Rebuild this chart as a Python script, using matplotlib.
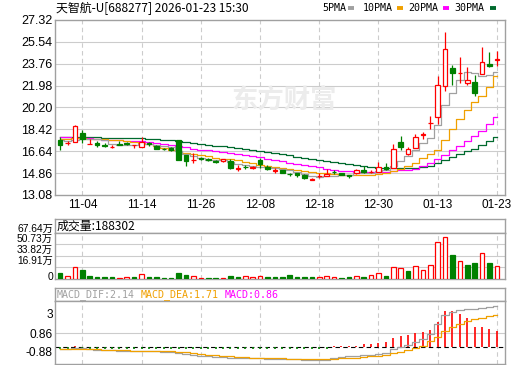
import matplotlib
matplotlib.use("Agg")
import matplotlib.pyplot as plt
from matplotlib.lines import Line2D
import numpy as np

# ---- data (60 trading days) ----
date_ticks = [3, 11, 19, 27, 35, 43, 51, 59]
date_labels = ["11-04", "11-14", "11-26", "12-08", "12-18", "12-30", "01-13", "01-23"]

opens = [17.53, 17.28, 17.39, 18.12, 17.24, 17.34, 17.15, 17.00, 17.23, 17.28,
         17.12, 17.00, 17.33, 17.05, 16.83, 16.87, 17.52, 16.30, 15.90, 16.08,
         15.98, 15.83, 15.83, 15.83, 15.22, 15.37, 15.24, 15.89, 15.35, 15.07,
         15.08, 14.77, 14.83, 14.70, 14.34, 14.60, 14.62, 14.99, 14.89, 14.67,
         14.83, 15.13, 14.96, 14.94, 15.38, 15.30, 17.38, 16.38, 16.92, 17.98,
         18.93, 19.44, 21.93, 23.43, 23.00, 22.21, 22.29, 22.94, 23.78, 24.08]
highs = [17.77, 17.50, 18.80, 18.34, 17.66, 17.44, 17.31, 17.17, 17.44, 17.36,
         17.17, 17.82, 17.40, 17.18, 16.90, 16.97, 17.55, 16.35, 16.50, 16.20,
         16.10, 15.90, 16.00, 16.05, 15.50, 15.55, 15.40, 16.11, 15.55, 15.30,
         15.10, 14.90, 14.88, 14.75, 14.50, 14.85, 15.20, 15.10, 14.90, 14.70,
         15.20, 15.40, 15.10, 15.75, 15.65, 17.27, 17.92, 17.00, 18.08, 18.22,
         19.49, 22.74, 26.35, 23.64, 24.29, 23.51, 22.88, 25.10, 24.69, 24.83]
lows = [16.71, 17.12, 17.39, 17.31, 17.24, 16.98, 17.01, 16.90, 17.12, 17.12,
        16.90, 16.98, 17.10, 16.84, 16.72, 16.68, 15.90, 15.43, 15.70, 15.95,
        15.85, 15.70, 15.80, 15.20, 15.00, 15.20, 15.20, 15.30, 15.15, 14.90,
        14.85, 14.60, 14.55, 14.42, 14.34, 14.50, 14.60, 14.80, 14.70, 14.50,
        14.80, 14.90, 14.85, 14.94, 15.15, 15.25, 16.78, 16.30, 16.92, 17.65,
        18.49, 18.82, 21.58, 22.07, 22.21, 22.07, 21.12, 22.90, 23.48, 23.56]
closes = [17.12, 17.30, 18.66, 17.66, 17.26, 17.12, 17.07, 17.02, 17.17, 17.22,
          17.14, 17.41, 17.19, 16.84, 16.80, 16.72, 15.91, 15.83, 15.93, 16.03,
          15.95, 15.75, 15.97, 15.30, 15.24, 15.35, 15.35, 15.57, 15.22, 15.08,
          14.86, 14.75, 14.70, 14.48, 14.35, 14.62, 14.81, 14.97, 14.70, 14.62,
          15.08, 14.97, 14.97, 15.38, 15.16, 16.84, 16.97, 16.84, 17.82, 18.02,
          18.97, 22.07, 24.99, 23.02, 23.04, 22.47, 21.39, 23.91, 23.56, 24.12]

ma5 = [17.55, 17.50, 17.58, 17.62, 17.60, 17.60, 17.55, 17.23, 17.13, 17.12,
       17.12, 17.19, 17.23, 17.16, 17.08, 16.99, 16.69, 16.42, 16.24, 16.08,
       15.93, 15.90, 15.93, 15.80, 15.64, 15.52, 15.44, 15.36, 15.35, 15.31,
       15.22, 15.10, 14.92, 14.77, 14.63, 14.58, 14.59, 14.65, 14.69, 14.74,
       14.84, 14.87, 14.87, 15.00, 15.11, 15.46, 15.86, 16.24, 16.73, 17.30,
       17.72, 18.74, 20.37, 21.41, 22.42, 23.12, 22.98, 22.77, 22.87, 23.09]
ma10 = [17.65, 17.66, 17.68, 17.68, 17.66, 17.64, 17.62, 17.58, 17.52, 17.46,
        17.40, 17.33, 17.22, 17.08, 16.92, 16.78, 16.65, 16.52, 16.40, 16.30,
        16.22, 16.12, 16.04, 15.97, 15.89, 15.78, 15.68, 15.56, 15.47, 15.38,
        15.30, 15.22, 15.12, 15.04, 14.96, 14.88, 14.85, 14.80, 14.74, 14.72,
        14.70, 14.70, 14.72, 14.76, 14.88, 15.02, 15.20, 15.40, 15.70, 16.10,
        16.40, 16.78, 17.55, 18.45, 19.25, 20.00, 20.65, 21.12, 21.90, 22.74]
ma20 = [17.80, 17.78, 17.75, 17.72, 17.68, 17.62, 17.57, 17.54, 17.52, 17.50,
        17.48, 17.46, 17.40, 17.33, 17.25, 17.18, 17.10, 16.95, 16.85, 16.78,
        16.72, 16.65, 16.58, 16.52, 16.45, 16.35, 16.25, 16.16, 16.05, 15.93,
        15.82, 15.72, 15.62, 15.54, 15.45, 15.35, 15.22, 15.12, 15.05, 15.00,
        14.97, 14.95, 14.93, 14.94, 14.98, 15.05, 15.10, 15.15, 15.22, 15.40,
        15.65, 15.97, 16.35, 16.72, 17.05, 17.45, 17.85, 18.27, 18.85, 19.44]
ma30 = [17.82, 17.81, 17.80, 17.80, 17.78, 17.77, 17.75, 17.74, 17.72, 17.71,
        17.69, 17.68, 17.66, 17.62, 17.58, 17.52, 17.46, 17.40, 17.33, 17.25,
        17.18, 17.10, 17.03, 16.95, 16.87, 16.80, 16.74, 16.67, 16.60, 16.50,
        16.40, 16.30, 16.20, 16.11, 16.02, 15.93, 15.84, 15.75, 15.68, 15.60,
        15.53, 15.46, 15.38, 15.31, 15.28, 15.27, 15.28, 15.29, 15.30, 15.32,
        15.45, 15.70, 15.93, 16.15, 16.38, 16.62, 16.86, 17.12, 17.45, 17.82]

# volume in 万
volume = [9.2, 4.3, 16.9, 13.0, 4.3, 2.9, 2.9, 2.9, 1.9, 2.9,
          2.9, 7.2, 2.9, 2.9, 1.4, 1.4, 9.2, 5.8, 4.3, 1.4,
          1.4, 1.4, 1.4, 4.3, 2.9, 4.3, 2.9, 4.3, 2.9, 2.9,
          2.9, 5.8, 2.9, 2.9, 2.9, 2.9, 4.3, 2.9, 1.4, 2.9,
          4.3, 2.9, 5.8, 8.2, 4.3, 16.9, 15.5, 11.6, 18.8, 13.0,
          20.3, 53.6, 60.4, 34.8, 26.1, 20.3, 23.2, 37.2, 23.2, 18.83]

dif = [-0.12, -0.08, -0.05, -0.06, -0.10, -0.14, -0.16, -0.18, -0.20, -0.21,
       -0.21, -0.21, -0.22, -0.23, -0.25, -0.28, -0.33, -0.38, -0.42, -0.46,
       -0.50, -0.52, -0.54, -0.56, -0.58, -0.59, -0.60, -0.60, -0.61, -0.62,
       -0.63, -0.64, -0.65, -0.66, -0.67, -0.68, -0.66, -0.58, -0.54, -0.50,
       -0.46, -0.43, -0.40, -0.36, -0.30, -0.12, 0.02, 0.12, 0.25, 0.40,
       0.70, 1.20, 1.70, 1.85, 1.93, 1.98, 1.98, 2.05, 2.10, 2.14]
dea = [-0.10, -0.10, -0.10, -0.10, -0.11, -0.12, -0.14, -0.16, -0.17, -0.18,
       -0.19, -0.19, -0.20, -0.21, -0.22, -0.23, -0.25, -0.28, -0.32, -0.36,
       -0.40, -0.44, -0.48, -0.50, -0.53, -0.54, -0.56, -0.57, -0.58, -0.59,
       -0.60, -0.61, -0.62, -0.63, -0.64, -0.64, -0.63, -0.62, -0.60, -0.58,
       -0.56, -0.53, -0.50, -0.46, -0.40, -0.33, -0.25, -0.16, -0.06, 0.06,
       0.30, 0.55, 0.85, 1.08, 1.22, 1.35, 1.45, 1.55, 1.63, 1.71]
macd = [-0.08, -0.08, 0.03, -0.08, -0.08, -0.08, -0.08, -0.08, -0.08, -0.08,
        -0.08, -0.08, -0.08, -0.08, -0.08, -0.08, -0.08, -0.08, -0.08, -0.08,
        -0.08, -0.08, -0.08, -0.08, -0.08, -0.08, -0.08, -0.08, -0.08, -0.08,
        -0.08, -0.08, -0.08, -0.08, -0.08, -0.08, -0.08, 0.05, 0.05, 0.05,
        0.07, 0.16, 0.16, 0.23, 0.28, 0.49, 0.58, 0.63, 0.72, 0.81,
        0.89, 1.33, 1.91, 1.89, 1.74, 1.51, 1.07, 1.07, 0.95, 0.86]

price_levels = [13.08, 14.86, 16.64, 18.42, 20.20, 21.98, 23.76, 25.54, 27.32]
vol_levels = [16.91, 33.82, 50.73, 67.64]

RED = "#ff0000"
GREEN = "#008000"
GRID = "#cccccc"
FRAME = "#a0a0a0"
CJK = ["Noto Sans CJK SC", "DejaVu Sans"]
NUM = ["Liberation Sans", "Noto Sans CJK SC"]
MONO = ["DejaVu Sans Mono", "Noto Sans CJK SC"]

W, H = 520, 365
fig = plt.figure(figsize=(W / 100, H / 100), dpi=100)


def axes_px(x0, y0, x1, y1):
    return fig.add_axes([x0 / W, 1 - y1 / H, (x1 - x0) / W, (y1 - y0) / H])


def style_frame(ax):
    for s in ax.spines.values():
        s.set_color(FRAME)
        s.set_linewidth(1.0)
    ax.tick_params(length=0)


def vgrid(ax):
    for t in date_ticks:
        ax.axvline(t, color=GRID, lw=0.8, ls=(0, (4, 3)), zorder=0)


x = np.arange(len(closes))
o = np.array(opens)
c = np.array(closes)
up = c >= o
XL = (-0.7, 60.1)

# ---- price panel ----
ax = axes_px(55, 20, 505, 195)
style_frame(ax)
ax.set_xlim(*XL)
ax.set_ylim(13.08, 27.32)
for lv in price_levels[1:-1]:
    ax.axhline(lv, color=GRID, lw=0.8, zorder=0)
vgrid(ax)
ax.text(0.51, 0.545, "东方财富", transform=ax.transAxes, fontsize=19,
        fontweight="bold", color="#ececec", family=CJK, ha="center", va="center", zorder=0)

ax.plot(x, ma30, color="#006a2e", lw=0.9, drawstyle="steps-mid", zorder=2)
ax.plot(x, ma20, color="#ff00ff", lw=0.9, drawstyle="steps-mid", zorder=2)
ax.plot(x, ma10, color="#f0a000", lw=0.9, drawstyle="steps-mid", zorder=2)
ax.plot(x, ma5, color="#a0a0a0", lw=0.9, drawstyle="steps-mid", zorder=2)

ax.vlines(x, lows, highs, colors=np.where(up, RED, GREEN), lw=0.9, zorder=3)
bot = np.minimum(o, c)
hgt = np.maximum(np.abs(c - o), 0.02)
ax.bar(x[up], hgt[up], bottom=bot[up], width=0.62, facecolor="white",
       edgecolor=RED, lw=0.9, zorder=4)
ax.bar(x[~up], hgt[~up], bottom=bot[~up], width=0.62, facecolor=GREEN,
       edgecolor=GREEN, lw=0.9, zorder=4)

ax.set_yticks(price_levels)
ax.set_yticklabels([f"{v:.2f}" for v in price_levels], family=NUM, fontsize=9)
ax.set_xticks(date_ticks)
ax.set_xticklabels(date_labels, family=NUM, fontsize=8.5)
ax.tick_params(axis="x", pad=3)
ax.tick_params(axis="y", pad=2)

# title + legend
fig.text(56 / W, 1 - 8 / H, "天智航-U[688277] 2026-01-23 15:30", family=CJK,
         fontsize=8.6, va="center", ha="left")
legend = [("5PMA", "#a0a0a0", 322, 348), ("10PMA", "#f0a000", 363, 397),
          ("20PMA", "#ff00ff", 408, 443), ("30PMA", "#006a2e", 454, 490)]
for name, col, tx, bx in legend:
    fig.text(tx / W, 1 - 8 / H, name, family=MONO, fontsize=7.2, va="center", ha="left")
    fig.add_artist(Line2D([bx / W, (bx + 6) / W], [1 - 8 / H, 1 - 8 / H],
                          color=col, lw=2.8, solid_capstyle="butt"))

# ---- volume panel ----
vh = axes_px(55, 219, 505, 232.5)
style_frame(vh)
vh.set_xticks([])
vh.set_yticks([])
vh.text(0.004, 0.45, "成交量:188302", transform=vh.transAxes, family=CJK,
        fontsize=8.6, va="center", ha="left")

av = axes_px(55, 232.5, 505, 279)
style_frame(av)
av.set_xlim(*XL)
av.set_ylim(0, 67.64)
for lv in vol_levels[:-1]:
    av.axhline(lv, color=GRID, lw=0.8, zorder=0)
vgrid(av)
prev = np.concatenate([[c[0] + 1], c[:-1]])
vup = c >= prev
vol = np.array(volume)
av.bar(x[vup], vol[vup], width=0.62, facecolor="white", edgecolor=RED, lw=0.9, zorder=3)
av.bar(x[~vup], vol[~vup], width=0.62, facecolor=GREEN, edgecolor=GREEN, lw=0.9, zorder=3)
av.set_xticks([])
av.set_yticks([])
for lab, py in [("67.64万", 228.5), ("50.73万", 239.2), ("33.82万", 249.9),
                ("16.91万", 260.6), ("0", 276.5)]:
    fig.text(53 / W, 1 - py / H, lab, family=NUM, fontsize=7.4,
             ha="right", va="center")

# ---- MACD panel ----
mh = axes_px(55, 288, 505, 300.7)
style_frame(mh)
mh.set_xticks([])
mh.set_yticks([])
parts = [("MACD_DIF:2.14", "#a0a0a0", 57), ("MACD_DEA:1.71", "#f0a000", 141),
         ("MACD:0.86", "#ff00ff", 225)]
for txt, col, tx in parts:
    fig.text(tx / W, 1 - 294.5 / H, txt, family=MONO, fontsize=7.2, color=col,
             va="center", ha="left")

am = axes_px(55, 300.7, 505, 363.7)
style_frame(am)
am.set_xlim(*XL)
am.set_ylim(-0.88, 2.44)
am.axhline(0.74, color=GRID, lw=0.8, zorder=0)
vgrid(am)
am.axhline(0, color="black", lw=0.8, ls=(0, (4, 3)), zorder=2)
mv = np.array(macd)
am.vlines(x, 0, mv, colors=np.where(mv >= 0, RED, GREEN), lw=1.2, zorder=3)
am.plot(x, dif, color="#a0a0a0", lw=0.9, drawstyle="steps-mid", zorder=4)
am.plot(x, dea, color="#f0a000", lw=0.9, drawstyle="steps-mid", zorder=4)
am.set_xticks([])
am.set_yticks([])
for lab, py in [("3", 315), ("0.86", 335), ("-0.88", 352.7)]:
    fig.text(53 / W, 1 - py / H, lab, family=NUM, fontsize=8.6,
             ha="right", va="center")

fig.savefig("out.png", dpi=100)
